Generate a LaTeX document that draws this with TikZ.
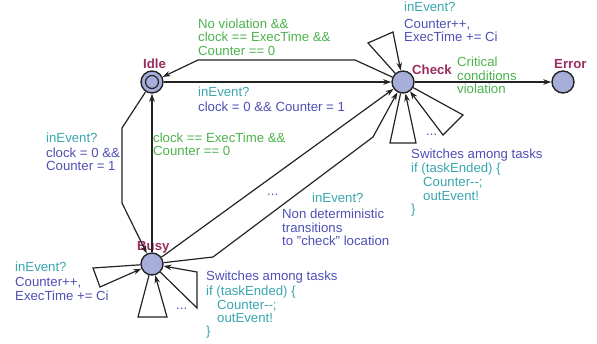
\documentclass[tikz,border=0pt]{standalone}
\usepackage{fontspec}
\setmainfont{Liberation Sans}
\usetikzlibrary{arrows.meta}
\definecolor{cgreen}{RGB}{76,178,76}
\definecolor{ccyan}{RGB}{58,166,174}
\definecolor{cblue}{RGB}{79,79,181}
\definecolor{cmaroon}{RGB}{153,45,95}
\definecolor{cfill}{RGB}{165,175,217}
\definecolor{cedge}{RGB}{35,35,35}
\tikzset{
  state/.style={circle,draw=cedge,line width=1.4pt,fill=cfill,minimum size=22pt,inner sep=0pt},
  arr/.style={draw=cedge,line width=1.2pt,-{Stealth[length=8pt,width=5.5pt]}},
  lbl/.style={anchor=base west,inner sep=0pt,font=\fontsize{13.2}{13.5}\selectfont},
  sname/.style={lbl,text=cmaroon,font=\fontsize{13.2}{13.5}\selectfont\bfseries},
  g/.style={lbl,text=cgreen},
  c/.style={lbl,text=ccyan},
  b/.style={lbl,text=cblue}
}
\begin{document}
\begin{tikzpicture}[x=1pt,y=-1pt]
\useasboundingbox (0,0) rectangle (597,343);
% states
\node[state] (idle) at (152,82) {};
\draw[cedge,line width=1.2pt] (idle.center) circle (6.5pt);
\node[state] (check) at (403,82) {};
\node[state] (error) at (563,82) {};
\node[state] (busy) at (152,264) {};
% state names
\node[sname] (nidle) at (143,68) {Idle};
\node[sname] (ncheck) at (412,74) {Check};
\node[sname] (nerror) at (554,68) {Error};
\node[sname] (nbusy) at (137,250) {Busy};
% edges
\draw[arr] (check) -- (355,60) -- (198,60) -- (idle);
\draw[arr] (idle) -- (check);
\draw[arr] (idle) -- (122,128) -- (122,203) -- (busy);
\draw[arr] (busy) -- (idle);
\draw[arr] (busy) -- (check);
\draw[arr] (busy) -- (213,257) -- (373,137) -- (check);
\draw[arr] (check) -- (error);
% check loops
\draw[arr] (check) -- (368,43) -- (393,32) -- (check);
\draw[arr] (check) -- (390,143) -- (416,143) -- (check);
\draw[arr] (check) -- (463,115) -- (443,135) -- (check);
% busy loops
\draw[arr] (busy) -- (93,268) -- (100,287) -- (busy);
\draw[arr] (busy) -- (138,317) -- (167,317) -- (busy);
\draw[arr] (busy) -- (197,308) -- (197,272) -- (busy);
% labels: check -> idle
\node[g] (l1a) at (198,28) {No violation \&\&};
\node[g] (l1b) at (198,41.5) {clock == ExecTime \&\&};
\node[g] (l1c) at (198,55) {Counter == 0};
% idle -> check
\node[c] (l2a) at (198,96.5) {inEvent?};
\node[b] (l2b) at (198,111.5) {clock = 0 \&\& Counter = 1};
% idle -> busy
\node[c] (l3a) at (46,142) {inEvent?};
\node[b] (l3b) at (46,157) {clock = 0 \&\&};
\node[b] (l3c) at (46,170.5) {Counter = 1};
% busy -> idle
\node[g] (l4a) at (153,142) {clock == ExecTime \&\&};
\node[g] (l4b) at (153,155.5) {Counter == 0};
% check top loop
\node[c] (l5a) at (404,11.5) {inEvent?};
\node[b] (l5b) at (404,28) {Counter++,};
\node[b] (l5c) at (404,41.5) {ExecTime += Ci};
% check -> error
\node[g] (l6a) at (457,66.5) {Critical};
\node[g] (l6b) at (457,80) {conditions};
\node[g] (l6c) at (457,93) {violation};
% check bottom loops
\node[b] (l7d) at (426,135) {...};
\node[b] (l7a) at (411,158) {Switches among tasks};
\node[c] (l7b) at (411,172) {if (taskEnded) \{};
\node[c] (l7c) at (423,186) {Counter{-}{-};};
\node[c] (l7e) at (423,200) {outEvent!};
\node[c] (l7f) at (411,213) {\}};
% busy -> check
\node[b] (l8d) at (267,195) {...};
\node[c] (l8a) at (312,202.5) {inEvent?};
\node[b] (l8b) at (282,218) {Non deterministic};
\node[b] (l8c) at (282,232) {transitions};
\node[b] (l8e) at (282,245.5) {to "check" location};
% busy left loop
\node[c] (l9a) at (15,271.5) {inEvent?};
\node[b] (l9b) at (15,286.5) {Counter++,};
\node[b] (l9c) at (15,300) {ExecTime += Ci};
% busy right loops
\node[b] (l10d) at (176,309) {...};
\node[b] (l10a) at (206,280) {Switches among tasks};
\node[c] (l10b) at (206,295) {if (taskEnded) \{};
\node[c] (l10c) at (217,309) {Counter{-}{-};};
\node[c] (l10e) at (217,322.5) {outEvent!};
\node[c] (l10f) at (206,335.5) {\}};
\end{tikzpicture}
\end{document}
